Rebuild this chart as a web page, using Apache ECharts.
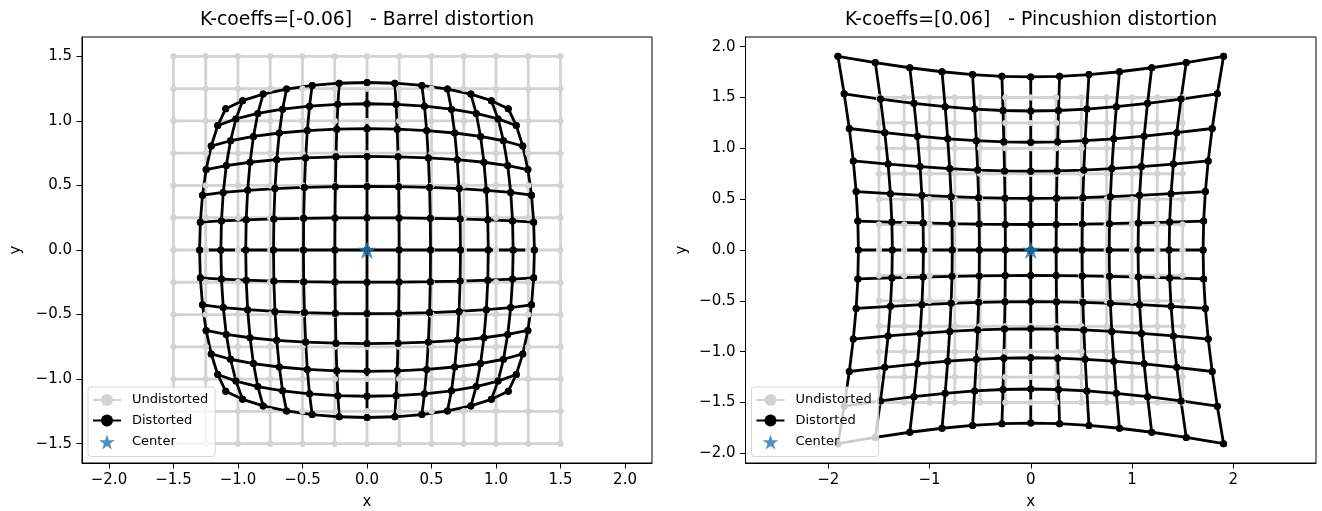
<!DOCTYPE html>
<html>
<head>
<meta charset="utf-8">
<script src="https://cdn.jsdelivr.net/npm/echarts@6/dist/echarts.min.js"></script>
<style>
html, body { margin: 0; padding: 0; background: #fff; }
#main { width: 1322px; height: 511px; }
</style>
</head>
<body>
<div id="main"></div>
<script>
// undistorted grid positions (same on both axes)
var gridVals = [-1.5, -1.25, -1, -0.75, -0.5, -0.25, 0, 0.25, 0.5, 0.75, 1, 1.25, 1.5];
var kCoeffs = [-0.06, 0.06];

// distorted x positions for the positive quadrant: row = |y| index, column = x index
var barrelQuad = [
    [0, 0.2491, 0.4925, 0.7247, 0.9400, 1.1328, 1.2975],
    [0, 0.2481, 0.4906, 0.7219, 0.9363, 1.1281, 1.2919],
    [0, 0.2453, 0.4850, 0.7134, 0.9250, 1.1141, 1.2750],
    [0, 0.2406, 0.4756, 0.6994, 0.9063, 1.0906, 1.2469],
    [0, 0.2341, 0.4625, 0.6797, 0.8800, 1.0578, 1.2075],
    [0, 0.2256, 0.4456, 0.6544, 0.8463, 1.0156, 1.1569],
    [0, 0.2153, 0.4250, 0.6234, 0.8050, 0.9641, 1.0950]
];
var pinQuad = [
    [0, 0.2509, 0.5075, 0.7753, 1.0600, 1.3672, 1.7025],
    [0, 0.2519, 0.5094, 0.7781, 1.0638, 1.3719, 1.7081],
    [0, 0.2547, 0.5150, 0.7866, 1.0750, 1.3859, 1.7250],
    [0, 0.2594, 0.5244, 0.8006, 1.0938, 1.4094, 1.7531],
    [0, 0.2659, 0.5375, 0.8203, 1.1200, 1.4422, 1.7925],
    [0, 0.2744, 0.5544, 0.8456, 1.1538, 1.4844, 1.8431],
    [0, 0.2847, 0.5750, 0.8766, 1.1950, 1.5359, 1.9050]
];
var center = [[0, 0]];

var titles = ['K-coeffs=[' + kCoeffs[0] + ']   - Barrel distortion',
              'K-coeffs=[' + kCoeffs[1] + ']   - Pincushion distortion'];

var xTicks1 = [-2, -1.5, -1, -0.5, 0, 0.5, 1, 1.5, 2];
var yTicks1 = [-1.5, -1, -0.5, 0, 0.5, 1, 1.5];
var xTicks2 = [-2, -1, 0, 1, 2];
var yTicks2 = [-2, -1.5, -1, -0.5, 0, 0.5, 1, 1.5, 2];

var starPath = 'path://M100,0L122.45,69.1L195.1,69.1L136.3,111.8L158.8,180.9L100,138.2L41.2,180.9L63.7,111.8L4.9,69.1L77.55,69.1Z';
var font = 'DejaVu Sans, sans-serif';

// mirror the quadrant table into the full 13x13 point grid
function fullGrid(quad) {
    var pts = [];
    for (var i = 0; i < 13; i++) {
        var row = [];
        for (var j = 0; j < 13; j++) {
            var a = Math.abs(j - 6), b = Math.abs(i - 6);
            row.push([Math.sign(j - 6) * quad[b][a], Math.sign(i - 6) * quad[a][b]]);
        }
        pts.push(row);
    }
    return pts;
}

function plainGrid() {
    var pts = [];
    for (var i = 0; i < 13; i++) {
        var row = [];
        for (var j = 0; j < 13; j++) row.push([gridVals[j], gridVals[i]]);
        pts.push(row);
    }
    return pts;
}

function gridSeries(name, pts, color, size, idx) {
    var out = [];
    for (var i = 0; i < 13; i++) {
        var h = [], v = [];
        for (var j = 0; j < 13; j++) {
            h.push(pts[i][j]);
            v.push(pts[j][i]);
        }
        [h, v].forEach(function (d) {
            out.push({
                name: name, type: 'line', xAxisIndex: idx, yAxisIndex: idx,
                data: d, symbol: 'circle', symbolSize: size, showSymbol: true,
                lineStyle: { color: color, width: 2.8 },
                itemStyle: { color: color },
                silent: true, animation: false
            });
        });
    }
    return out;
}

function fmt(dec) {
    return function (v) { return Number(v).toFixed(dec).replace('-', '\u2212'); };
}

function xAxis(idx, lim, ticks, dec) {
    return {
        type: 'value', gridIndex: idx, min: -lim, max: lim,
        name: 'x', nameLocation: 'middle', nameGap: 32,
        nameTextStyle: { color: '#000', fontSize: 15, fontFamily: font },
        axisLine: { show: true, onZero: false, lineStyle: { color: '#000', width: 1 } },
        axisTick: { show: true, inside: false, length: 5.5, customValues: ticks, lineStyle: { color: '#000' } },
        axisLabel: { customValues: ticks, margin: 10, formatter: fmt(dec), color: '#000', fontSize: 15, fontFamily: font },
        splitLine: { show: false }
    };
}

function yAxis(idx, lim, ticks, gap) {
    return {
        type: 'value', gridIndex: idx, min: -lim, max: lim,
        name: 'y', nameLocation: 'middle', nameGap: gap,
        nameTextStyle: { color: '#000', fontSize: 15, fontFamily: font },
        axisLine: { show: true, onZero: false, lineStyle: { color: '#000', width: 1 } },
        axisTick: { show: true, inside: false, length: 5.5, customValues: ticks, lineStyle: { color: '#000' } },
        axisLabel: { customValues: ticks, margin: 10, formatter: fmt(1), color: '#000', fontSize: 15, fontFamily: font },
        splitLine: { show: false }
    };
}

function legend(left) {
    return {
        left: left, top: 387, orient: 'vertical',
        data: ['Undistorted', 'Distorted', 'Center'],
        itemWidth: 28, itemHeight: 15, itemGap: 7.5,
        padding: [6.5, 7, 7, 4],
        backgroundColor: 'rgba(255,255,255,0.8)',
        borderColor: 'rgba(204,204,204,0.8)', borderWidth: 1, borderRadius: 3,
        selectedMode: false,
        textStyle: { color: '#000', fontSize: 13, fontFamily: font, padding: [0, 0, 0, 6] }
    };
}

var series = [];
[barrelQuad, pinQuad].forEach(function (quad, idx) {
    series = series.concat(gridSeries('Undistorted', plainGrid(), '#d3d3d3', 6, idx));
    series = series.concat(gridSeries('Distorted', fullGrid(quad), '#000000', 7, idx));
    series.push({
        name: 'Center', type: 'scatter', xAxisIndex: idx, yAxisIndex: idx,
        data: center, symbol: starPath, symbolSize: 19, symbolKeepAspect: true,
        itemStyle: { color: '#1f77b4' }, silent: true, animation: false, z: 3
    });
});

var myChart = echarts.init(document.getElementById('main'));
myChart.setOption({
    animation: false,
    title: [{
        text: titles[0], left: 367, top: 11, textAlign: 'center', padding: 0,
        textStyle: { color: '#000', fontSize: 18.8, fontWeight: 'normal', fontFamily: font }
    }, {
        text: titles[1], left: 1031, top: 11, textAlign: 'center', padding: 0,
        textStyle: { color: '#000', fontSize: 18.8, fontWeight: 'normal', fontFamily: font }
    }],
    legend: [legend(88), legend(751.5)],
    grid: [
        { left: 82, top: 37, width: 570, height: 426, outerBoundsMode: 'none', containLabel: false,
          show: true, borderColor: '#000', borderWidth: 1, backgroundColor: 'transparent' },
        { left: 745.5, top: 37, width: 570.5, height: 426, outerBoundsMode: 'none', containLabel: false,
          show: true, borderColor: '#000', borderWidth: 1, backgroundColor: 'transparent' }
    ],
    xAxis: [xAxis(0, 2.209, xTicks1, 1), xAxis(1, 2.818, xTicks2, 0)],
    yAxis: [yAxis(0, 1.65, yTicks1, 58), yAxis(1, 2.095, yTicks2, 56)],
    series: series
});
</script>
</body>
</html>
